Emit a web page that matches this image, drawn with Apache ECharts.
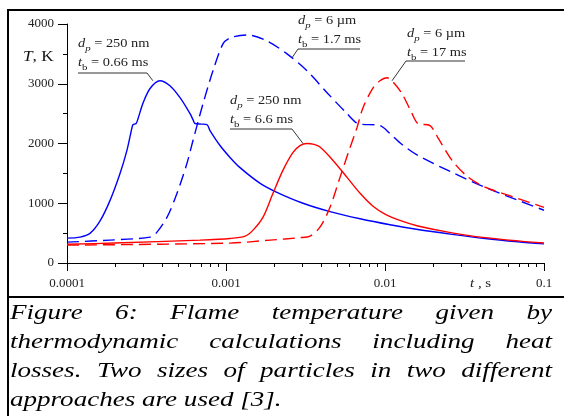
<!DOCTYPE html>
<html>
<head>
<meta charset="utf-8">
<script src="https://cdn.jsdelivr.net/npm/echarts@6/dist/echarts.min.js"></script>
<style>
  html, body { margin: 0; background: #fff; }
  #main { width: 564px; height: 416px; }
</style>
</head>
<body>
<div id="main"></div>
<script>
// t, s  /  T, K
// d_p = 250 nm, t_b = 0.66 ms (blue solid)
const nm250Fast = [
  [1.0e-4, 417], [1.21e-4, 433], [1.40e-4, 500], [1.61e-4, 700], [1.86e-4, 1040],
  [2.15e-4, 1490], [2.38e-4, 1880], [2.56e-4, 2260], [2.60e-4, 2315], [2.72e-4, 2335],
  [2.80e-4, 2420], [3.01e-4, 2680], [3.33e-4, 2920], [3.84e-4, 3050], [4.44e-4, 2967],
  [5.14e-4, 2767], [5.94e-4, 2500], [6.20e-4, 2400], [6.38e-4, 2335], [7.0e-4, 2325],
  [7.59e-4, 2317], [7.93e-4, 2217], [9.17e-4, 1967], [1.06e-3, 1767], [1.22e-3, 1600],
  [1.64e-3, 1333], [2.09e-3, 1183], [3.05e-3, 1000], [4.51e-3, 860], [6.97e-3, 740],
  [1.075e-2, 640], [1.61e-2, 560], [2.64e-2, 480], [4.26e-2, 410], [6.86e-2, 355], [0.1, 320]
];
// d_p = 6 um, t_b = 1.7 ms (blue dashed)
const um6Fast = [
  [1.0e-4, 350], [1.86e-4, 383], [3.33e-4, 433], [3.68e-4, 517], [4.26e-4, 767],
  [4.92e-4, 1167], [5.68e-4, 1667], [6.20e-4, 2050], [7.17e-4, 2667], [8.28e-4, 3217],
  [9.57e-4, 3667], [1.06e-3, 3767], [1.355e-3, 3817], [1.81e-3, 3717], [2.42e-3, 3500],
  [3.23e-3, 3217], [4.32e-3, 2850], [5.77e-3, 2500], [6.77e-3, 2333], [9.3e-3, 2300],
  [1.075e-2, 2167], [1.28e-2, 1983], [1.61e-2, 1800], [2.64e-2, 1517], [4.26e-2, 1267],
  [6.86e-2, 1050], [0.1, 883]
];
// d_p = 250 nm, t_b = 6.6 ms (red solid)
const nm250Slow = [
  [1.0e-4, 313], [2.0e-4, 335], [6.86e-4, 383], [1.06e-3, 410], [1.32e-3, 450],
  [1.48e-3, 550], [1.71e-3, 767], [1.975e-3, 1167], [2.28e-3, 1550], [2.64e-3, 1850],
  [2.92e-3, 1965], [3.23e-3, 2000], [3.58e-3, 1985], [3.9e-3, 1940], [4.71e-3, 1717],
  [5.77e-3, 1433], [6.97e-3, 1167], [8.41e-3, 950], [1.0e-2, 820], [1.28e-2, 700],
  [1.61e-2, 620], [2.64e-2, 505], [4.26e-2, 425], [6.86e-2, 370], [0.1, 335]
];
// d_p = 6 um, t_b = 17 ms (red dashed)
const um6Slow = [
  [1.0e-4, 300], [1.06e-3, 333], [1.89e-3, 383], [2.92e-3, 425], [3.375e-3, 450],
  [3.9e-3, 600], [4.51e-3, 933], [5.21e-3, 1433], [6.03e-3, 1933], [6.67e-3, 2267],
  [7.27e-3, 2600], [8.41e-3, 2933], [9.3e-3, 3050], [1.03e-2, 3100], [1.107e-2, 3050],
  [1.28e-2, 2833], [1.48e-2, 2500], [1.61e-2, 2333], [1.92e-2, 2300], [2.15e-2, 2100],
  [2.64e-2, 1717], [3.33e-2, 1438], [4.26e-2, 1270], [6.86e-2, 1080], [0.1, 930]
];

const xTickLabels = ['0.0001', '0.001', '0.01', '0.1'];
const xMinorFactors = [2, 3, 4, 5, 6, 7, 8, 9];
const xDecades = [1e-4, 1e-3, 1e-2];

// where each leader line touches its curve [t, T]
const noteTips = [[3.47e-4, 3050], [2.6e-3, 3433], [3.05e-3, 2000], [1.107e-2, 3050]];
const noteTexts = [
  ['250 nm', '0.66 ms'],
  ['6 µm', '1.7 ms'],
  ['250 nm', '6.6 ms'],
  ['6 µm', '17 ms']
];

const captionLines = [
  'Figure 6: Flame temperature given by',
  'thermodynamic calculations including heat',
  'losses. Two sizes of particles in two different',
  'approaches are used [3].'
];

const SERIF = '"Liberation Serif", "Times New Roman", serif';
const chart = echarts.init(document.getElementById('main'));

const minorLog = [];
xDecades.forEach(d => xMinorFactors.forEach(f => minorLog.push(Math.log10(d * f))));

function line(data, color, dashed) {
  return {
    type: 'line',
    data: data,
    showSymbol: false,
    symbol: 'none',
    smooth: 0.3,
    silent: true,
    lineStyle: { color: color, width: 1.4, type: dashed ? [12, 6] : 'solid' }
  };
}

chart.setOption({
  animation: false,
  grid: { left: 67, right: 20, top: 24, bottom: 153 },
  xAxis: [
    {
      type: 'log',
      logBase: 10,
      min: 1e-4,
      max: 0.1,
      axisLine: { lineStyle: { color: '#000', width: 1 } },
      axisTick: { length: 8, lineStyle: { color: '#000' } },
      splitLine: { show: false },
      axisLabel: {
        margin: 14,
        fontFamily: SERIF,
        fontSize: 13,
        color: '#222',
        formatter: (v, i) => xTickLabels[i]
      }
    },
    {
      type: 'value',
      min: -4,
      max: -1,
      position: 'bottom',
      axisLine: { show: false },
      axisLabel: { show: false },
      splitLine: { show: false },
      axisTick: { show: true, length: 4, customValues: minorLog, lineStyle: { color: '#000' } }
    }
  ],
  yAxis: {
    type: 'value',
    min: 0,
    max: 4000,
    interval: 1000,
    axisLine: { show: true, lineStyle: { color: '#000', width: 1 } },
    axisTick: { show: true, length: 9, lineStyle: { color: '#000' } },
    minorTick: { show: true, splitNumber: 2, length: 4, lineStyle: { color: '#000' } },
    splitLine: { show: false },
    axisLabel: { margin: 13, fontFamily: SERIF, fontSize: 13, color: '#222', formatter: v => String(v) }
  },
  series: [
    line(nm250Fast, '#0000ff', false),
    line(um6Fast, '#0000ff', true),
    line(nm250Slow, '#ff0000', false),
    line(um6Slow, '#ff0000', true)
  ]
});

// annotation layout: text top-left, underline span and which end is the knee
const noteLayout = [
  { x: 78, y: 34, u: [78, 147], knee: 147, uy: 73 },
  { x: 298, y: 11, u: [298, 360], knee: 298, uy: 49 },
  { x: 230, y: 91, u: [230, 292], knee: 292, uy: 129 },
  { x: 407, y: 24, u: [406, 465], knee: 406, uy: 61 }
];

const rich = {
  n: { fontFamily: SERIF, fontSize: 12, lineHeight: 19, fill: '#222' },
  i: { fontFamily: SERIF, fontSize: 12, fontStyle: 'italic', lineHeight: 19, fill: '#222' },
  s: { fontFamily: SERIF, fontSize: 9, fontStyle: 'italic', lineHeight: 19, verticalAlign: 'bottom', fill: '#222' },
  b: { fontFamily: SERIF, fontSize: 9, lineHeight: 19, verticalAlign: 'bottom', fill: '#222' }
};

const graphics = [];
noteLayout.forEach((L, k) => {
  const tip = chart.convertToPixel({ gridIndex: 0 }, noteTips[k]);
  const far = L.knee === L.u[0] ? L.u[1] : L.u[0];
  graphics.push({
    type: 'polyline',
    silent: true,
    shape: { points: [[far, L.uy], [L.knee, L.uy], tip] },
    style: { stroke: '#333', lineWidth: 1, fill: null }
  });
  graphics.push({
    type: 'text',
    x: L.x, y: L.y, scaleX: 1.2,
    silent: true,
    style: {
      text: '{i|d}{s|p}{n| = ' + noteTexts[k][0] + '}\n{i|t}{b|b}{n| = ' + noteTexts[k][1] + '}',
      rich: rich
    }
  });
});

// axis names
graphics.push({
  type: 'text', x: 23, y: 57, scaleX: 1.15, silent: true,
  style: { text: '{i|T}{n|, K}', verticalAlign: 'middle',
    rich: { i: { fontFamily: SERIF, fontSize: 15, fontStyle: 'italic', fill: '#111' },
            n: { fontFamily: SERIF, fontSize: 15, fill: '#111' } } }
});
graphics.push({
  type: 'text', x: 470, y: 284, scaleX: 1.15, silent: true,
  style: { text: '{i|t}{n| , s}', verticalAlign: 'middle',
    rich: { i: { fontFamily: SERIF, fontSize: 13, fontStyle: 'italic', fill: '#222' },
            n: { fontFamily: SERIF, fontSize: 13, fill: '#222' } } }
});

// frame
graphics.push({ type: 'rect', silent: true, shape: { x: 8, y: 9, width: 556, height: 2 }, style: { fill: '#000' } });
graphics.push({ type: 'rect', silent: true, shape: { x: 7, y: 9, width: 2, height: 407 }, style: { fill: '#000' } });
graphics.push({ type: 'rect', silent: true, shape: { x: 8, y: 296, width: 556, height: 2 }, style: { fill: '#000' } });

// caption, justified between left and right edges
const capFont = 22, capScale = 1.23, capLeft = 10, capRight = 552;
const capMid = [313, 342.5, 371.5, 400.5];
const ctx = document.createElement('canvas').getContext('2d');
ctx.font = 'italic ' + capFont + 'px ' + SERIF;
captionLines.forEach((txt, r) => {
  const words = txt.split(' ');
  const widths = words.map(w => ctx.measureText(w).width * capScale);
  const total = widths.reduce((a, b) => a + b, 0);
  const last = r === captionLines.length - 1;
  const gap = last ? ctx.measureText(' ').width * capScale : (capRight - capLeft - total) / (words.length - 1);
  let x = capLeft;
  words.forEach((w, j) => {
    graphics.push({
      type: 'text', x: x, y: capMid[r], scaleX: capScale, silent: true,
      style: { text: w, fontFamily: SERIF, fontSize: capFont, fontStyle: 'italic', fill: '#000', verticalAlign: 'middle' }
    });
    x += widths[j] + gap;
  });
});

chart.setOption({ graphic: graphics });
</script>
</body>
</html>
